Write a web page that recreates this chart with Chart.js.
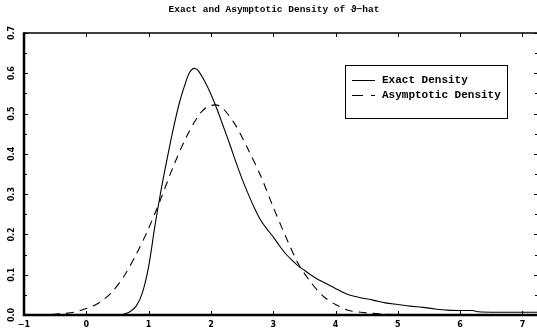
<!DOCTYPE html>
<html>
<head>
<meta charset="utf-8">
<script src="https://cdn.jsdelivr.net/npm/chart.js@4/dist/chart.umd.min.js"></script>
<style>
html,body{margin:0;padding:0;background:#fff;overflow:hidden;width:537px;height:332px;}
#wrap{position:absolute;left:0;top:0;width:540px;height:332px;}
</style>
</head>
<body>
<div id="wrap"><canvas id="c" width="540" height="332"></canvas></div>
<script>
const titleText = "Exact and Asymptotic Density of \u03D1\u2212hat";
const seriesNames = ["Exact Density", "Asymptotic Density"];
const xTickLabels = ["-1","0","1","2","3","4","5","6","7"];
const yTickLabels = ["0.0","0.1","0.2","0.3","0.4","0.5","0.6","0.7"];

const exactX = [-1,0.5,0.6,0.7,0.8,0.9,1.0,1.1,1.2,1.3,1.4,1.5,1.6,1.65,1.7,1.75,1.8,1.9,2.0,2.1,2.2,2.3,2.4,2.5,2.6,2.7,2.8,2.9,3.0,3.1,3.2,3.3,3.4,3.5,3.6,3.7,3.8,3.9,4.0,4.1,4.2,4.4,4.6,4.8,5.0,5.2,5.4,5.6,5.8,6.0,6.2,6.3,6.5,7.25];
const exactY = [0,0,0.002,0.008,0.022,0.055,0.12,0.22,0.31,0.39,0.465,0.53,0.58,0.6,0.61,0.612,0.606,0.58,0.548,0.51,0.468,0.425,0.38,0.338,0.3,0.265,0.235,0.213,0.194,0.172,0.152,0.136,0.122,0.111,0.1,0.09,0.082,0.074,0.066,0.058,0.051,0.043,0.037,0.03,0.026,0.022,0.019,0.015,0.012,0.011,0.011,0.008,0.007,0.007];

const asymX = [-1,-0.8,-0.6,-0.4,-0.2,0,0.2,0.4,0.6,0.8,1.0,1.2,1.4,1.6,1.8,1.9,2.0,2.1,2.2,2.4,2.6,2.8,3.0,3.2,3.4,3.6,3.8,4.0,4.2,4.4,4.6,4.8,5.0,5.2];
const asymY = [0,0,0.001,0.003,0.007,0.016,0.03,0.055,0.095,0.15,0.215,0.29,0.37,0.44,0.495,0.512,0.52,0.521,0.512,0.47,0.41,0.345,0.268,0.195,0.128,0.082,0.047,0.026,0.012,0.007,0.004,0.002,0.001,0];

const pts = (xs, ys) => xs.map((x, i) => ({x: x, y: ys[i]}));

const framePlugin = {
  id: 'frame',
  afterDraw(chart) {
    const ctx = chart.ctx;
    const xs = chart.scales.x, ys = chart.scales.y;
    const a = chart.chartArea;
    ctx.save();
    ctx.strokeStyle = '#000';
    ctx.fillStyle = '#000';
    ctx.lineWidth = 1.5;
    ctx.beginPath();
    ctx.moveTo(a.left, a.top); ctx.lineTo(a.right, a.top);
    ctx.moveTo(a.right, a.top); ctx.lineTo(a.right, a.bottom);
    ctx.stroke();
    ctx.lineWidth = 2.5;
    ctx.beginPath();
    ctx.moveTo(a.left, a.top - 0.75); ctx.lineTo(a.left, a.bottom);
    ctx.lineTo(a.right, a.bottom);
    ctx.stroke();
    ctx.lineWidth = 1;
    xTickLabels.forEach(lbl => {
      const v = parseFloat(lbl);
      const px = Math.round(xs.getPixelForValue(v)) + 0.5;
      ctx.beginPath();
      ctx.moveTo(px, a.top); ctx.lineTo(px, a.top + 4);
      ctx.moveTo(px, a.bottom); ctx.lineTo(px, a.bottom - 4);
      ctx.stroke();
    });
    for (let k = 0; k <= 14; k++) {
      const v = k * 0.05;
      const py = Math.round(ys.getPixelForValue(v)) + 0.5;
      const len = (k % 2 === 0) ? 4 : 3;
      ctx.beginPath();
      ctx.moveTo(a.left, py); ctx.lineTo(a.left + len, py);
      ctx.moveTo(a.right, py); ctx.lineTo(a.right - len, py);
      ctx.stroke();
    }
    ctx.font = 'bold 8px "DejaVu Sans"';
    ctx.textAlign = 'center';
    ctx.textBaseline = 'middle';
    xTickLabels.forEach(lbl => {
      const v = parseFloat(lbl);
      ctx.fillText(lbl.replace('-', '\u2212'), xs.getPixelForValue(v), a.bottom + 10);
    });
    yTickLabels.forEach(lbl => {
      const v = parseFloat(lbl);
      ctx.save();
      ctx.translate(11.5, ys.getPixelForValue(v));
      ctx.rotate(-Math.PI / 2);
      ctx.fillText(lbl, 0, 0);
      ctx.restore();
    });
    ctx.font = 'bold 9.5px "Liberation Mono"';
    ctx.fillText(titleText, 274, 10);
    const lx = 345.5, ly = 65.5, lw = 162, lh = 53;
    ctx.fillStyle = '#fff';
    ctx.fillRect(lx, ly, lw, lh);
    ctx.lineWidth = 1;
    ctx.strokeStyle = '#000';
    ctx.strokeRect(lx, ly, lw, lh);
    ctx.beginPath();
    ctx.moveTo(352, 80.5); ctx.lineTo(375, 80.5);
    ctx.stroke();
    ctx.setLineDash([11, 8]);
    ctx.beginPath();
    ctx.moveTo(352, 95.5); ctx.lineTo(375, 95.5);
    ctx.stroke();
    ctx.setLineDash([]);
    ctx.fillStyle = '#000';
    ctx.font = 'bold 11px "Liberation Mono"';
    ctx.textAlign = 'left';
    ctx.fillText(seriesNames[0], 382, 80.5);
    ctx.fillText(seriesNames[1], 382, 95.5);
    ctx.restore();
  }
};

new Chart(document.getElementById('c'), {
  type: 'scatter',
  data: {
    datasets: [
      { label: seriesNames[0], data: pts(exactX, exactY), showLine: true, borderColor: '#000', borderWidth: 1.1, pointRadius: 0, tension: 0.3, fill: false },
      { label: seriesNames[1], data: pts(asymX, asymY), showLine: true, borderColor: '#000', borderWidth: 1.1, borderDash: [8, 6], pointRadius: 0, tension: 0.3, fill: false }
    ]
  },
  options: {
    responsive: false,
    animation: false,
    devicePixelRatio: 1,
    layout: { padding: { left: 24, top: 33, right: 2, bottom: 17 } },
    plugins: { legend: { display: false }, title: { display: false }, tooltip: { enabled: false } },
    scales: {
      x: { type: 'linear', min: -1, max: 7.25, display: false },
      y: { type: 'linear', min: 0, max: 0.7, display: false }
    }
  },
  plugins: [framePlugin]
});
</script>
</body>
</html>
